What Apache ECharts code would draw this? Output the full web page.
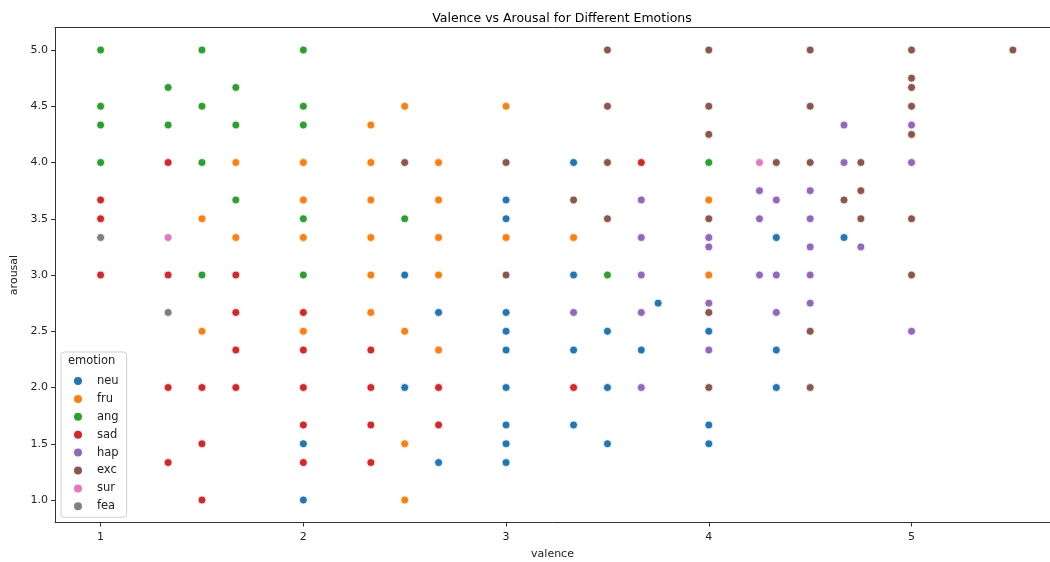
<!DOCTYPE html>
<html>
<head>
<meta charset="utf-8">
<script src="https://cdn.jsdelivr.net/npm/echarts@6/dist/echarts.min.js"></script>
<style>html,body{margin:0;padding:0;background:#fff}#c{width:1050px;height:562px}</style>
</head>
<body>
<div id="c"></div>
<script>
const emotions = ['neu','fru','ang','sad','hap','exc','sur','fea'];
const colors = ['#1f77b4','#ff7f0e','#2ca02c','#d62728','#9467bd','#8c564b','#e377c2','#7f7f7f'];
const xTicks = [1,2,3,4,5];
const yTicks = [1.0,1.5,2.0,2.5,3.0,3.5,4.0,4.5,5.0];

const neu = [[2,1.5],[2,1.0],[2.5,3.0],[2.5,2.0],[2.667,2.667],[2.667,1.333],[3,3.667],[3,3.5],[3,2.667],[3,2.5],[3,2.333],[3,2.0],[3,1.667],[3,1.5],[3,1.333],[3.333,4.0],[3.333,3.0],[3.333,2.333],[3.333,1.667],[3.5,2.5],[3.5,2.0],[3.5,1.5],[3.667,2.333],[3.75,2.75],[4,2.5],[4,1.667],[4,1.5],[4.333,3.333],[4.333,2.333],[4.333,2.0],[4.667,3.333]];
const fru = [[1.5,3.5],[1.5,2.5],[1.667,4.0],[1.667,3.333],[2,4.0],[2,3.667],[2,3.333],[2,2.5],[2.333,4.333],[2.333,4.0],[2.333,3.667],[2.333,3.333],[2.333,3.0],[2.333,2.667],[2.5,4.5],[2.5,2.5],[2.5,1.5],[2.5,1.0],[2.667,4.0],[2.667,3.667],[2.667,3.333],[2.667,3.0],[2.667,2.333],[3,4.5],[3,3.333],[3.333,3.333],[4,3.667],[4,3.0]];
const ang = [[1,5],[1,4.5],[1,4.333],[1,4],[1.333,4.667],[1.333,4.333],[1.5,5],[1.5,4.5],[1.5,4],[1.5,3],[1.667,4.667],[1.667,4.333],[1.667,3.667],[2,5],[2,4.5],[2,4.333],[2,3.5],[2,3],[2.5,3.5],[3.5,3.0],[4,4.0]];
const sad = [[1,3.667],[1,3.5],[1,3.0],[1.333,4.0],[1.333,3.0],[1.333,2.0],[1.333,1.333],[1.5,2.0],[1.5,1.5],[1.5,1.0],[1.667,3.0],[1.667,2.667],[1.667,2.333],[1.667,2.0],[2,2.667],[2,2.333],[2,2.0],[2,1.667],[2,1.333],[2.333,2.333],[2.333,2.0],[2.333,1.667],[2.333,1.333],[2.667,2.0],[2.667,1.667],[3.333,2.0],[3.667,4.0]];
const hap = [[3.333,2.667],[3.667,3.667],[3.667,3.333],[3.667,3.0],[3.667,2.667],[3.667,2.0],[4,3.333],[4,3.25],[4,2.75],[4,2.333],[4.25,3.75],[4.25,3.5],[4.25,3.0],[4.333,3.667],[4.333,3.0],[4.333,2.667],[4.5,3.75],[4.5,3.5],[4.5,3.25],[4.5,3.0],[4.5,2.75],[4.667,4.333],[4.667,4.0],[4.75,3.25],[5,4.333],[5,4.0],[5,2.5]];
const exc = [[2.5,4.0],[3,4.0],[3,3.0],[3.333,3.667],[3.5,5],[3.5,4.5],[3.5,4],[3.5,3.5],[4,5],[4,4.5],[4,4.25],[4,3.5],[4,2.667],[4,2.0],[4.333,4.0],[4.5,5],[4.5,4.5],[4.5,4.0],[4.5,2.5],[4.5,2.0],[4.667,3.667],[4.75,4.0],[4.75,3.75],[4.75,3.5],[5,5],[5,4.75],[5,4.667],[5,4.5],[5,4.25],[5,3.5],[5,3.0],[5.5,5]];
const sur = [[1.333,3.333],[4.25,4.0]];
const fea = [[1,3.333],[1.333,2.667]];
const seriesData = [neu, fru, ang, sad, hap, exc, sur, fea];

const FONT = 'DejaVu Sans';
const XMIN = 0.775, XMAX = 5.683;
const chart = echarts.init(document.getElementById('c'), null, {renderer: 'canvas'});
chart.setOption({
  animation: false,
  backgroundColor: '#fff',
  color: colors,
  title: {
    text: 'Valence vs Arousal for Different Emotions',
    left: 557, top: 7, textAlign: 'center',
    textStyle: {fontFamily: FONT, fontSize: 12.5, fontWeight: 'normal', color: '#000'}
  },
  grid: {
    left: 55, right: 0, top: 27.5, bottom: 39.5,
    outerBoundsMode: 'none', containLabel: false,
    show: false
  },
  xAxis: [{
    type: 'value', min: XMIN, max: XMAX,
    name: 'valence', nameLocation: 'middle', nameGap: 26,
    nameTextStyle: {fontFamily: FONT, fontSize: 11, color: '#222'},
    axisLine: {show: true, onZero: false, lineStyle: {color: '#333'}},
    axisTick: {show: true, length: 4, customValues: xTicks, lineStyle: {color: '#333'}},
    axisLabel: {customValues: xTicks, fontFamily: FONT, fontSize: 11, color: '#222', margin: 9, formatter: v => String(v)},
    splitLine: {show: false}
  }, {
    type: 'value', min: XMIN, max: XMAX, position: 'top',
    axisLine: {show: true, onZero: false, lineStyle: {color: '#333'}},
    axisTick: {show: false}, axisLabel: {show: false}, splitLine: {show: false}
  }],
  yAxis: {
    type: 'value', min: 0.8, max: 5.2,
    name: 'arousal', nameLocation: 'middle', nameGap: 31,
    nameTextStyle: {fontFamily: FONT, fontSize: 11, color: '#222'},
    axisLine: {show: true, onZero: false, lineStyle: {color: '#333'}},
    axisTick: {show: true, length: 4, customValues: yTicks, lineStyle: {color: '#333'}},
    axisLabel: {customValues: yTicks, fontFamily: FONT, fontSize: 11, color: '#222', margin: 7, formatter: v => v.toFixed(1)},
    splitLine: {show: false}
  },
  legend: {
    data: emotions,
    orient: 'vertical', left: 61, top: 352,
    padding: [22, 8, 4, 11],
    itemGap: 3.9, itemWidth: 10, itemHeight: 10, icon: 'circle',
    backgroundColor: 'rgba(255,255,255,0.8)', borderColor: '#d0d0d0', borderWidth: 1, borderRadius: 3,
    textStyle: {fontFamily: FONT, fontSize: 11.5, color: '#222', lineHeight: 14, padding: [0,0,0,9]},
    z: 10
  },
  graphic: [{
    type: 'text', left: 68, top: 355, z: 100,
    style: {text: 'emotion', font: '11.5px "DejaVu Sans"', fill: '#222'}
  }],
  series: emotions.map((e, i) => ({
    name: e, type: 'scatter', data: seriesData[i], xAxisIndex: 0,
    symbolSize: 8,
    itemStyle: {color: colors[i], borderColor: '#fff', borderWidth: 0.8, opacity: 1}
  }))
});
</script>
</body>
</html>
